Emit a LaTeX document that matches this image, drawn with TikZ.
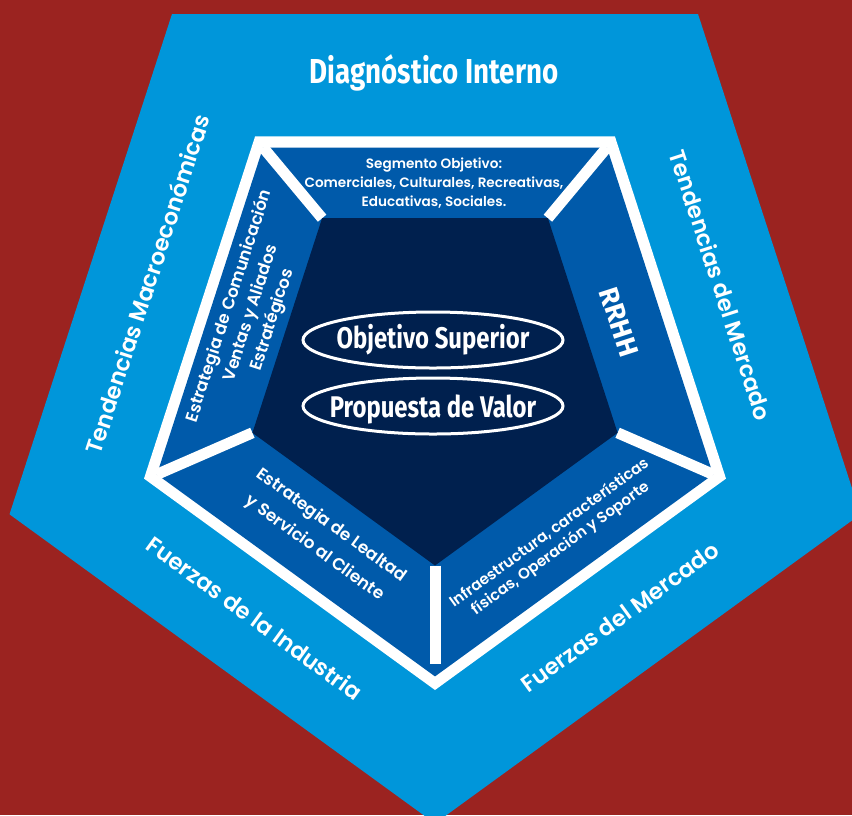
\documentclass[tikz,border=0pt]{standalone}
\usepackage{fontspec}
\usepackage{tikz}

\newfontfamily\futmed{Poppins SemiBold}
\newfontfamily\condbold{Fira Sans}[FakeStretch=0.8]
\newfontfamily\widebold{Fira Sans}

\definecolor{bgred}{RGB}{155,35,32}
\definecolor{skyblue}{RGB}{0,150,218}
\definecolor{ringblue}{RGB}{0,90,170}
\definecolor{coreblue}{RGB}{0,32,78}

\begin{document}
\begin{tikzpicture}[x=0.75pt,y=0.75pt,yscale=-1,xscale=1,
  edgelbl/.style={inner sep=0.75pt, text=white, font=\futmed\fontsize{17}{21}\selectfont},
  ringlbl/.style={inner sep=0.75pt, text=white, align=center},
  titlelbl/.style={inner sep=0.75pt, text=white, font=\condbold\bfseries\fontsize{26}{30}\selectfont},
  ovallbl/.style={inner sep=0.75pt, text=white, font=\condbold\bfseries\fontsize{22.4}{27}\selectfont},
  spoke/.style={draw=white, line width=8.25}]
\useasboundingbox (0,0) rectangle (852,815);
\clip (0,0) rectangle (852,815);

%Shape: Rectangle
\draw [draw=none, fill=bgred] (0,0) -- (852,0) -- (852,815) -- (0,815) -- cycle ;
%Shape: Regular Polygon
\draw [draw=none, fill=skyblue] (172,14) -- (698,14) -- (860.5,514.3) -- (435,823.4) -- (9.5,514.3) -- cycle ;
%Shape: Regular Polygon
\draw [draw=none, fill=white] (255.1,136.4) -- (614.9,136.4) -- (726,478.6) -- (435,690) -- (144,478.6) -- cycle ;
%Shape: Regular Polygon
\draw [draw=none, fill=ringblue] (263.1,147.5) -- (606.9,147.5) -- (713.1,474.4) -- (435,676.4) -- (156.9,474.4) -- cycle ;

\coordinate (ringTL) at (263.1,147.5);
\coordinate (ringTR) at (606.9,147.5);
\coordinate (ringR) at (713.1,474.4);
\coordinate (ringB) at (435,664);
\coordinate (ringL) at (156.9,474.4);
\coordinate (coreTL) at (322.1,218.2);
\coordinate (coreTR) at (547.9,218.2);
\coordinate (coreR) at (617.6,432.8);
\coordinate (coreB) at (435,565.5);
\coordinate (coreL) at (252.4,432.8);

%Straight Lines
\draw [spoke] (coreTL) -- (ringTL) ;
\draw [spoke] (coreTR) -- (ringTR) ;
\draw [spoke] (coreR) -- (ringR) ;
\draw [spoke] (coreB) -- (ringB) ;
\draw [spoke] (coreL) -- (ringL) ;

%Shape: Regular Polygon
\draw [draw=none, fill=coreblue] (coreTL) -- (coreTR) -- (coreR) -- (coreB) -- (coreL) -- cycle ;

%Shape: Ellipse
\draw [color=white, fill=coreblue, line width=2.25] (433,340) ellipse (130 and 28) ;
%Shape: Ellipse
\draw [color=white, fill=coreblue, line width=2.25] (433,406) ellipse (130 and 28) ;

% Text Node
\draw (434,83) node [titlelbl, anchor=base] (diagint) {Diagnóstico Interno};
% Text Node
\draw (147,284) node [edgelbl, rotate=72] (tendmacro) {Tendencias Macroeconómicas};
% Text Node
\draw (721,285) node [edgelbl, rotate=-72] (tendmerc) {Tendencias del Mercado};
% Text Node
\draw (255,618) node [edgelbl, rotate=-36] (fzaind) {Fuerzas de la Industria};
% Text Node
\draw (620,617) node [edgelbl, rotate=36] (fzamerc) {Fuerzas del Mercado};

% Text Node
\draw (434,183) node [ringlbl, font=\futmed\fontsize{10.2}{14.25}\selectfont] (segobj) {Segmento Objetivo:\\Comerciales, Culturales, Recreativas,\\Educativas, Sociales.};
% Text Node
\draw (619,322) node [ringlbl, rotate=-72, font=\widebold\bfseries\fontsize{20.7}{25}\selectfont] (rrhh) {RRHH};
% Text Node
\draw (251,313) node [ringlbl, rotate=72, font=\futmed\fontsize{12.6}{17}\selectfont] (estcom) {Estrategia de Comunicación\\Ventas y Aliados\\Estratégicos};
% Text Node
\draw (323,537) node [ringlbl, rotate=-36, font=\futmed\fontsize{12.6}{21}\selectfont] (estleal) {Estrategia de Lealtad\\y Servicio al Cliente};
% Text Node
\draw (555,541) node [ringlbl, rotate=36, font=\futmed\fontsize{11.4}{14.25}\selectfont] (infra) {Infraestructura, características\\físicas, Operación y Soporte};

% Text Node
\draw (433,348) node [ovallbl, anchor=base] (objsup) {Objetivo Superior};
% Text Node
\draw (433,417) node [ovallbl, anchor=base] (propval) {Propuesta de Valor};

\end{tikzpicture}
\end{document}
